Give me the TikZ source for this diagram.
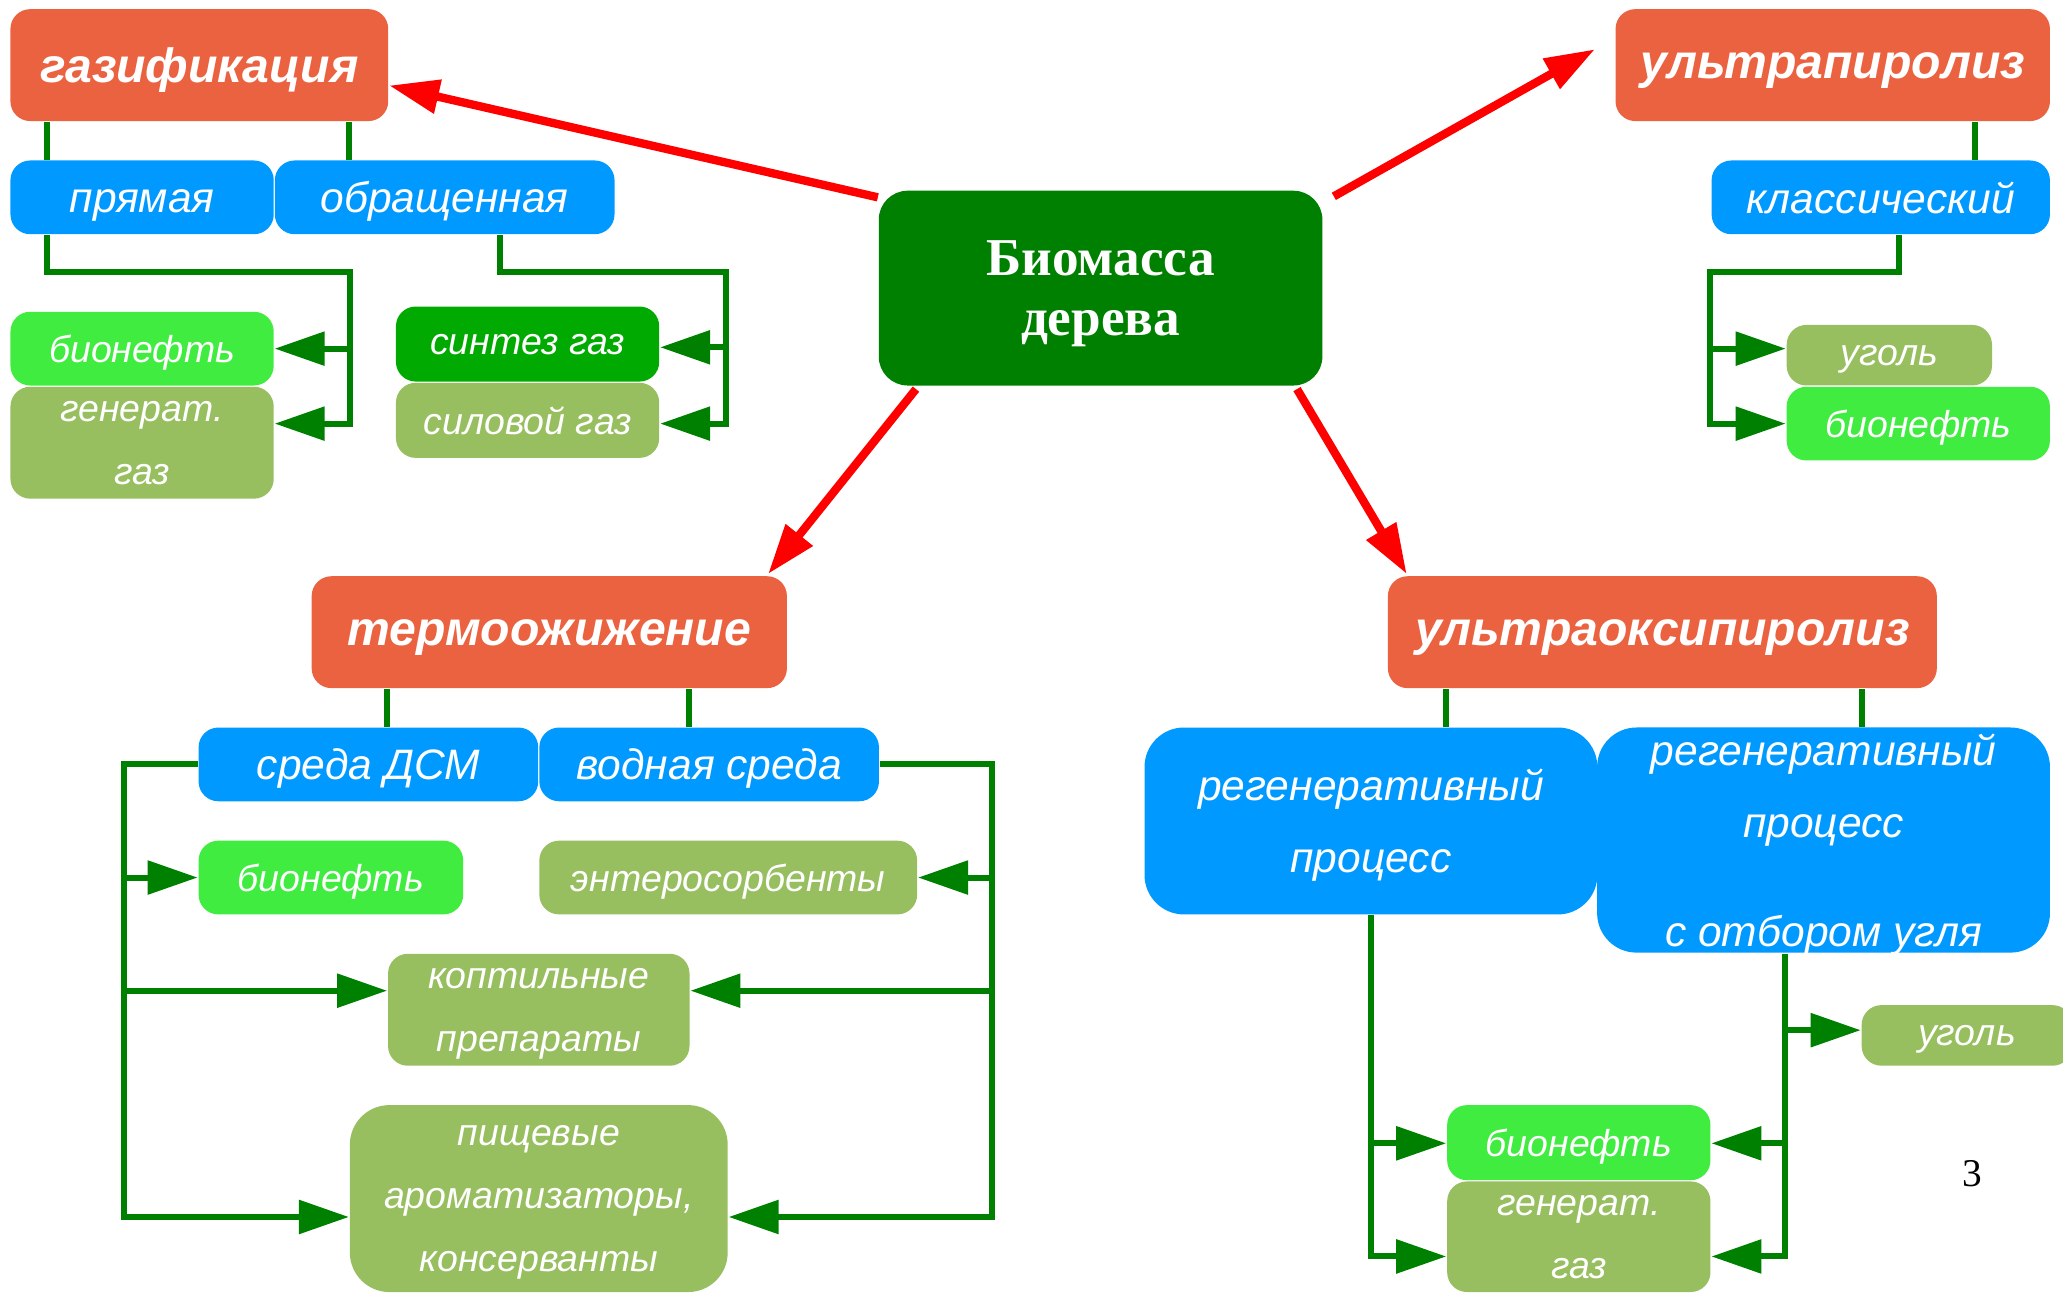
\documentclass[tikz,border=0pt]{standalone}
\usepackage{fontspec}
\setmainfont{Liberation Sans}
\newfontfamily\corefont{Liberation Serif}
\usetikzlibrary{arrows.meta,calc}

\definecolor{headC}{RGB}{235,98,64}
\definecolor{kindC}{RGB}{0,153,255}
\definecolor{oilC}{RGB}{64,236,64}
\definecolor{synC}{RGB}{0,170,0}
\definecolor{restC}{RGB}{151,190,95}
\definecolor{linkC}{RGB}{0,128,0}

\tikzset{
  box/.style={rounded corners=0.15cm, text=white, align=center, inner sep=0pt, text depth=0pt},
  headbox/.style={box, fill=headC, font=\bfseries\itshape\fontsize{10.4}{13}\selectfont},
  kindbox/.style={box, fill=kindC, font=\itshape\fontsize{9.2}{15.5}\selectfont},
  prodbox/.style={box, font=\itshape\fontsize{8.1}{13.6}\selectfont},
  link/.style={draw=linkC, line width=1.3pt},
  feed/.style={link, -{Triangle[length=0.38cm,width=0.25cm]}},
  route/.style={draw=red, line width=1.8pt, -{Triangle[length=0.38cm,width=0.25cm]}}
}

\begin{document}
\begin{tikzpicture}[x=0.01cm, y=-0.01cm]
\useasboundingbox (0,0) rectangle (1568,983);

% centre
\node[box, rounded corners=0.22cm, fill=linkC, minimum width=3.37cm, minimum height=1.48cm,
  font=\corefont\bfseries\fontsize{11.5}{13}\selectfont] (biomass) at (836.5,219) {Биомасса\\дерева};

% gasification
\node[headbox, minimum width=2.87cm, minimum height=0.85cm] (gazif) at (151.5,49.5) {газификация};
\node[kindbox, minimum width=2.00cm, minimum height=0.56cm] (prjam) at (108,150) {\vphantom{б}прямая};
\node[kindbox, minimum width=2.58cm, minimum height=0.56cm] (obrasch) at (338,150) {обращенная};
\node[prodbox, fill=oilC, minimum width=2.00cm, minimum height=0.56cm] (bioA) at (108,265) {бионефть};
\node[prodbox, fill=restC, minimum width=2.00cm, minimum height=0.85cm] (genA) at (108,336.5) {генерат.\\газ};
\node[prodbox, fill=synC, minimum width=2.00cm, minimum height=0.57cm] (sintez) at (401,261.5) {синтез газ};
\node[prodbox, fill=restC, minimum width=2.00cm, minimum height=0.57cm] (silov) at (401,319.5) {силовой газ};

\draw[link] (gazif.south -| 36,0) -- (prjam.north -| 36,0);
\draw[link] (gazif.south -| 265,0) -- (obrasch.north -| 265,0);
\draw[feed] (prjam.south -| 36,0) |- (266,207) |- (bioA.east);
\draw[feed] (266,207) |- (genA.east |- 0,322);
\draw[feed] (obrasch.south -| 380,0) |- (552,207) |- (sintez.east |- 0,264);
\draw[feed] (552,207) |- (silov.east |- 0,322);

% ultrapyrolysis
\node[headbox, minimum width=3.30cm, minimum height=0.85cm] (upir) at (1393,49.5) {ультрапиролиз};
\node[kindbox, minimum width=2.57cm, minimum height=0.56cm] (klass) at (1429.5,150) {классический};
\node[prodbox, fill=restC, minimum width=1.56cm, minimum height=0.46cm] (ugolA) at (1436,270) {уголь};
\node[prodbox, fill=oilC, minimum width=2.00cm, minimum height=0.56cm] (bioB) at (1458,322) {бионефть};

\draw[link] (upir.south -| 1501,0) -- (klass.north -| 1501,0);
\draw[feed] (klass.south -| 1443,0) |- (1300,207) |- (ugolA.west |- 0,265);
\draw[feed] (1300,207) |- (bioB.west);

% liquefaction
\node[headbox, minimum width=3.61cm, minimum height=0.85cm] (termo) at (417.5,480.5) {термоожижение};
\node[kindbox, minimum width=2.58cm, minimum height=0.56cm] (dsm) at (280,581) {среда ДСМ};
\node[kindbox, minimum width=2.58cm, minimum height=0.56cm] (vodn) at (539,581) {водная среда};
\node[prodbox, fill=oilC, minimum width=2.01cm, minimum height=0.56cm] (bioC) at (251.5,667) {бионефть};
\node[prodbox, fill=restC, minimum width=2.87cm, minimum height=0.56cm] (entero) at (553.5,667) {энтеросорбенты};
\node[prodbox, fill=restC, minimum width=2.29cm, minimum height=0.85cm] (kopt) at (409.5,767.5) {коптильные\\препараты};
\node[prodbox, fill=restC, rounded corners=0.3cm, minimum width=2.87cm, minimum height=1.42cm] (pisch) at (409.5,911)
  {пищевые\\ароматизаторы,\\консерванты};

\draw[link] (termo.south -| 294,0) -- (dsm.north -| 294,0);
\draw[link] (termo.south -| 524,0) -- (vodn.north -| 524,0);
\draw[feed] (dsm.west) -| (94,667) -- (bioC.west);
\draw[feed] (94,667) |- (kopt.west |- 0,753);
\draw[feed] (94,753) |- (pisch.west |- 0,925);
\draw[feed] (vodn.east) -| (754,667) -- (entero.east);
\draw[feed] (754,667) |- (kopt.east |- 0,753);
\draw[feed] (754,753) |- (pisch.east |- 0,925);

% ultra-oxy-pyrolysis
\node[headbox, minimum width=4.17cm, minimum height=0.85cm] (uoks) at (1263.5,480.5) {ультраоксипиролиз};
\node[kindbox, rounded corners=0.3cm, minimum width=3.44cm, minimum height=1.42cm] (regA) at (1042,624)
  {регенеративный\\процесс};
\node[kindbox, rounded corners=0.3cm, minimum width=3.44cm, minimum height=1.71cm] (regB) at (1386,638.5)
  {регенеративный\\процесс\\[8pt]с отбором угля};
\node[prodbox, fill=restC, minimum width=1.60cm, minimum height=0.46cm] (ugolB) at (1495,787) {уголь};
\node[prodbox, fill=oilC, minimum width=2.00cm, minimum height=0.57cm] (bioD) at (1200,868.5) {бионефть};
\node[prodbox, fill=restC, minimum width=2.00cm, minimum height=0.84cm] (genB) at (1200,940) {генерат.\\газ};

\draw[link] (uoks.south -| 1099,0) -- (regA.north -| 1099,0);
\draw[link] (uoks.south -| 1415,0) -- (regB.north -| 1415,0);
\draw[feed] (regA.south) |- (bioD.west |- 0,869);
\draw[feed] (1042,869) |- (genB.west |- 0,955);
\draw[feed] (regB.south -| 1357,0) |- (ugolB.west |- 0,783);
\draw[feed] (1357,783) |- (bioD.east |- 0,869);
\draw[feed] (1357,869) |- (genB.east |- 0,955);

% main routes
\draw[route] (biomass.north west |- 0,150) -- (gazif.east |- 0,65);
\draw[route] ($(biomass.north east)+(8,5)$) -- ($(upir.west)+(-15,-12)$);
\draw[route] ($(biomass.south west)+(29,2)$) -- ($(termo.north east)+(-15,-1)$);
\draw[route] ($(biomass.south east)+(-20,2)$) -- ($(uoks.north west)+(15,-1)$);

\node[font=\corefont\fontsize{8.5}{10}\selectfont] (pagenum) at (1499,892) {3};
\end{tikzpicture}
\end{document}
